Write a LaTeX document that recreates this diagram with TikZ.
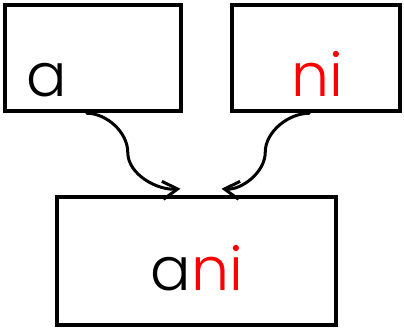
\documentclass[tikz,border=0pt]{standalone}
\usepackage{fontspec}
\setmainfont{Poppins Light}
\usepackage{xcolor}
\usetikzlibrary{positioning,arrows.meta}

\begin{document}
\begin{tikzpicture}[x=1pt, y=-1pt,
    part/.style   ={draw=black, line width=4.5pt, rectangle, inner sep=0pt},
    word/.style   ={font=\fontsize{60}{60}\selectfont, anchor=base, inner sep=0pt},
    merge/.style  ={draw=black, line width=3pt, line cap=round,
                    -{Straight Barb[length=15pt, width=18pt, line width=3pt]}}
  ]
    % --- frame ---
    \useasboundingbox (0,0) rectangle (404,336);
    % --- the two parts ---
    \node[part, minimum width=176pt, minimum height=106pt] (boxA) at (93,58) {};
    \node[part, minimum width=168pt, minimum height=106pt] (boxNi) at (316,58) {};
    \node[word] (wA) at (47,97) {a};
    \node[word, text=red] (wNi) at (317,97) {ni};
    % --- the joined word ---
    \node[part, minimum width=279pt, minimum height=128pt] (boxAni) at (196.5,261) {};
    \node[word] (wAni) at (197,291) {a\textcolor{red}{ni}};
    % --- connectors ---
    \draw[merge] ([xshift=84pt]boxA.south west)
      to[out=0, in=90, looseness=0.9] ++(41,39)
      to[out=-90, in=185, looseness=0.9] ([xshift=-16pt,yshift=6pt]boxAni.north);
    \draw[merge] ([xshift=-93pt]boxNi.south east)
      to[out=180, in=90, looseness=0.9] ++(-44,39)
      to[out=-90, in=-5, looseness=0.9] ([xshift=25pt,yshift=6pt]boxAni.north);
  \end{tikzpicture}
\end{document}
